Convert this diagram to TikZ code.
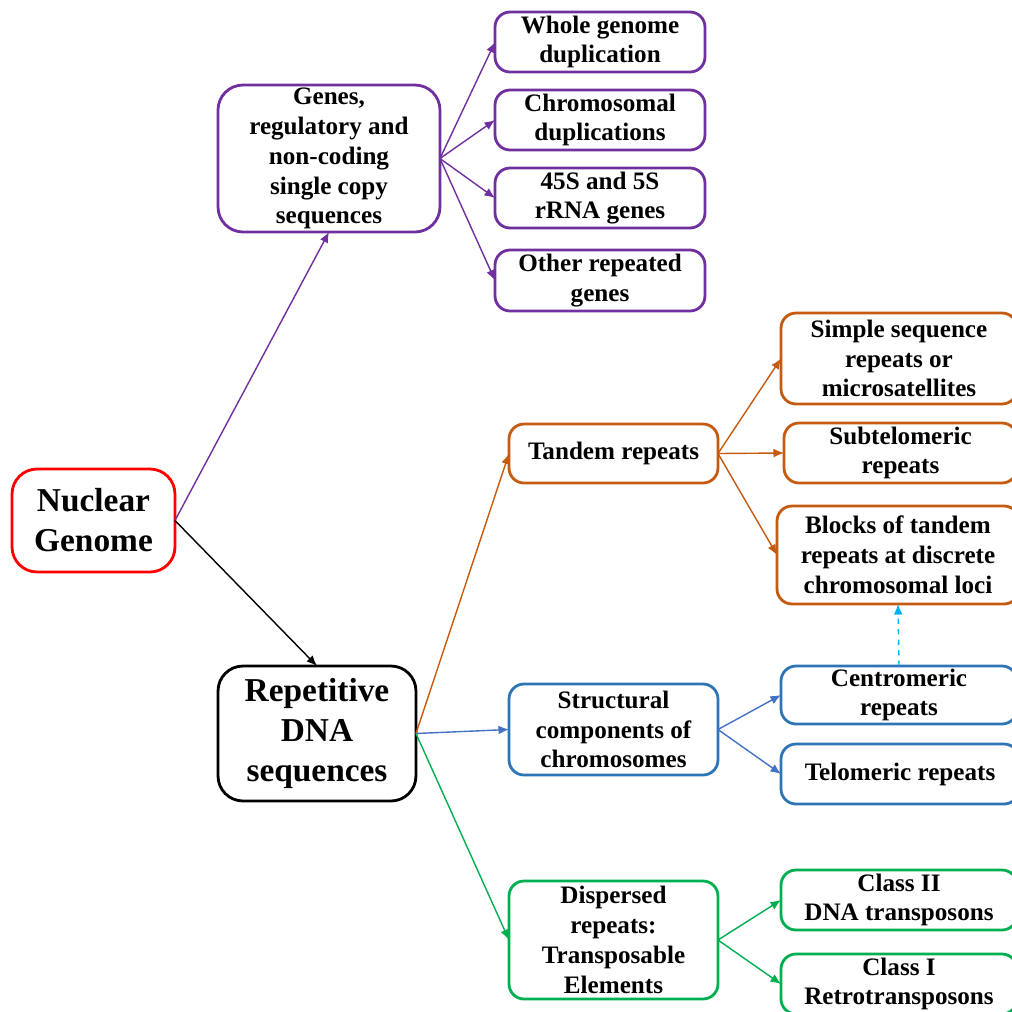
\documentclass[tikz,border=0pt]{standalone}
\usepackage{fontspec}
\setmainfont{Liberation Serif}
\usetikzlibrary{arrows.meta}
\definecolor{gpurple}{HTML}{7030A0}
\definecolor{gorange}{HTML}{C55A11}
\definecolor{gblue}{HTML}{2E75B6}
\definecolor{lblue}{HTML}{4472C4}
\definecolor{ggreen}{HTML}{00B050}
\definecolor{dblue}{HTML}{00B0F0}
\tikzset{
	box/.style={draw, rounded corners=0.3cm, line width=1.6pt, align=center, inner sep=0pt, outer sep=0pt, font=\bfseries\fontsize{14.3}{17}\selectfont},
	bigbox/.style={box, rounded corners=0.5cm, font=\bfseries\fontsize{19}{22.7}\selectfont},
	link/.style={-{Latex[length=6pt,width=5pt]}, line width=0.8pt},
}

\begin{document}
\begin{tikzpicture}[x=0.02cm, y=-0.02cm]
	\useasboundingbox (0,0) rectangle (1012,1012);
	\node[bigbox, red, text=black, minimum width=3.26cm, minimum height=2.06cm] (nuclear) at (93.5,520.5) {Nuclear\\Genome};
	\node[box, gpurple, text=black, rounded corners=0.5cm, minimum width=4.44cm, minimum height=2.94cm] (genes) at (329,158.5) {Genes,\\regulatory and\\non-coding\\single copy\\sequences};
	\node[box, gpurple, text=black, minimum width=4.2cm, minimum height=1.2cm] (wgd) at (600,42) {Whole genome\\duplication};
	\node[box, gpurple, text=black, minimum width=4.2cm, minimum height=1.2cm] (chromdup) at (600,120) {Chromosomal\\duplications};
	\node[box, gpurple, text=black, minimum width=4.2cm, minimum height=1.2cm] (rrna) at (600,198) {45S and 5S\\rRNA genes};
	\node[box, gpurple, text=black, minimum width=4.2cm, minimum height=1.22cm] (othergenes) at (600,280.5) {Other repeated\\genes};
	\node[bigbox, black, minimum width=3.96cm, minimum height=2.7cm] (repdna) at (317,733.5) {Repetitive\\DNA\\sequences};
	\node[box, gorange, text=black, minimum width=4.18cm, minimum height=1.18cm] (tandem) at (613.5,453.5) {Tandem repeats};
	\node[box, gorange, text=black, minimum width=4.72cm, minimum height=1.82cm] (ssr) at (899,358.5) {Simple sequence\\repeats or\\microsatellites};
	\node[box, gorange, text=black, minimum width=4.66cm, minimum height=1.2cm] (subtel) at (900.5,453) {Subtelomeric\\repeats};
	\node[box, gorange, text=black, minimum width=4.84cm, minimum height=1.96cm] (blocks) at (898,555) {Blocks of tandem\\repeats at discrete\\chromosomal loci};
	\node[box, gblue, text=black, minimum width=4.18cm, minimum height=1.82cm] (structural) at (613.5,729.5) {Structural\\components of\\chromosomes};
	\node[box, gblue, text=black, minimum width=4.72cm, minimum height=1.16cm] (centro) at (899,695) {Centromeric\\repeats};
	\node[box, gblue, text=black, minimum width=4.76cm, minimum height=1.2cm] (telo) at (900,774) {Telomeric repeats};
	\node[box, ggreen, text=black, minimum width=4.18cm, minimum height=2.36cm] (dispersed) at (613.5,940) {Dispersed\\repeats:\\Transposable\\Elements};
	\node[box, ggreen, text=black, minimum width=4.72cm, minimum height=1.2cm] (classtwo) at (899,900) {Class II\\DNA transposons};
	\node[box, ggreen, text=black, minimum width=4.72cm, minimum height=1.2cm] (classone) at (899,984) {Class I\\Retrotransposons};

	\draw[link, gpurple] (nuclear.east) -- (genes.south);
	\draw[link, black] (nuclear.east) -- (repdna.north);
	\foreach \t in {wgd, chromdup, rrna, othergenes}
		\draw[link, gpurple] (genes.east) -- (\t.west);
	\draw[link, gorange] (repdna.east) -- (tandem.west);
	\draw[link, lblue] (repdna.east) -- (structural.west);
	\draw[link, ggreen] (repdna.east) -- (dispersed.west);
	\foreach \t in {ssr, subtel, blocks}
		\draw[link, gorange] (tandem.east) -- (\t.west);
	\foreach \t in {centro, telo}
		\draw[link, lblue] (structural.east) -- (\t.west);
	\foreach \t in {classtwo, classone}
		\draw[link, ggreen] (dispersed.east) -- (\t.west);
	\draw[link, dblue, dashed] (centro.north) -- (blocks.south);
\end{tikzpicture}
\end{document}
